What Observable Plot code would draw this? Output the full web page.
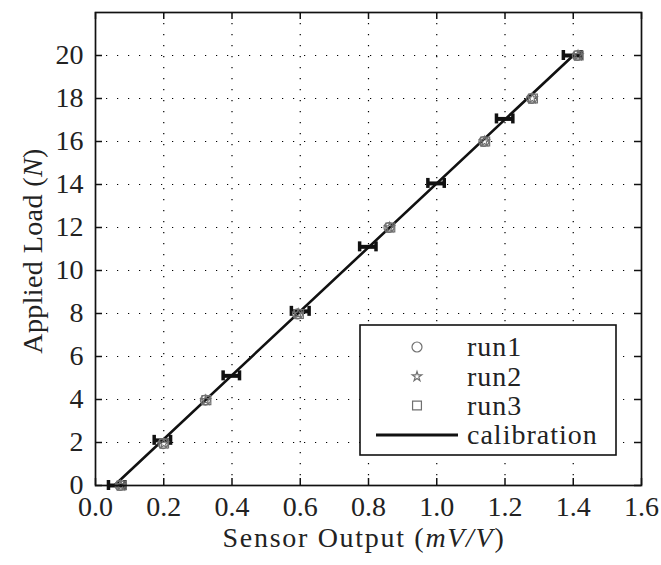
<!DOCTYPE html>
<html><head><meta charset="utf-8">
<script src="https://cdn.jsdelivr.net/npm/d3@7"></script>
<script src="https://cdn.jsdelivr.net/npm/@observablehq/plot@0.6"></script>
<style>body{margin:0;background:#fff} #chart svg{display:block}</style>
</head><body><div id="chart"></div>
<script>
// ---- data ----
const xTicks = [0.0, 0.2, 0.4, 0.6, 0.8, 1.0, 1.2, 1.4, 1.6];
const yTicks = [0, 2, 4, 6, 8, 10, 12, 14, 16, 18, 20];
const runLoads = [0, 1.95, 3.97, 7.98, 12.0, 16.0, 18.0, 20.0];
const run1X = [0.072, 0.198, 0.322, 0.592, 0.860, 1.138, 1.278, 1.412];
const run2X = [0.074, 0.200, 0.323, 0.594, 0.862, 1.140, 1.280, 1.414];
const run3X = [0.076, 0.201, 0.325, 0.596, 0.864, 1.142, 1.282, 1.416];
const errLoads = [0, 2.1, 5.1, 8.1, 11.1, 14.05, 17.05, 20.0];
const errX = [0.062, 0.196, 0.398, 0.600, 0.798, 0.998, 1.199, 1.397];
const errHalf = [0.024, 0.024, 0.024, 0.026, 0.024, 0.024, 0.024, 0.026];
const calX = [0.055, 1.40];
const calY = [0, 20];
const legendLabels = ["run1", "run2", "run3", "calibration"];

// ---- layout ----
const W = 661, H = 565, mL = 95, mR = 20, mT = 12, mB = 80;
const xDom = [0, 1.6], yDom = [0, 22];
const pxX = (W - mL - mR) / (xDom[1] - xDom[0]);
const pxY = (H - mT - mB) / (yDom[1] - yDom[0]);
const tickLen = 7;
const tx = tickLen / pxX, ty = tickLen / pxY;
const capHalf = 5 / pxY;

const runs = [
  {xs: run1X, symbol: "circle", r: 5},
  {xs: run2X, symbol: "star", r: 3},
  {xs: run3X, symbol: "square", r: 5}
];
const errs = errX.map((x, i) => ({x, y: errLoads[i], e: errHalf[i]}));
const cal = calX.map((x, i) => ({x, y: calY[i]}));
const grey = "#707070";
const dots = "1.2,9.8";
const fs = 28;

const marks = [
  Plot.ruleX(xTicks.slice(1, -1), {stroke: "#000", strokeWidth: 1.2, strokeDasharray: dots}),
  Plot.ruleY(yTicks.slice(1), {stroke: "#000", strokeWidth: 1.2, strokeDasharray: dots}),
  Plot.ruleX(xTicks, {y1: yDom[0], y2: yDom[0] + ty, stroke: "#111", strokeWidth: 1.5}),
  Plot.ruleX(xTicks, {y1: yDom[1] - ty, y2: yDom[1], stroke: "#111", strokeWidth: 1.5}),
  Plot.ruleY(yTicks, {x1: xDom[0], x2: xDom[0] + tx, stroke: "#111", strokeWidth: 1.5}),
  Plot.ruleY(yTicks, {x1: xDom[1] - tx, x2: xDom[1], stroke: "#111", strokeWidth: 1.5}),
  Plot.line(cal, {x: "x", y: "y", stroke: "#111", strokeWidth: 2.6}),
  Plot.ruleY(errs, {y: "y", x1: d => d.x - d.e, x2: d => d.x + d.e, stroke: "#111", strokeWidth: 4}),
  Plot.ruleX(errs, {x: d => d.x - d.e, y1: d => d.y - capHalf, y2: d => d.y + capHalf, stroke: "#111", strokeWidth: 3.5}),
  Plot.ruleX(errs, {x: d => d.x + d.e, y1: d => d.y - capHalf, y2: d => d.y + capHalf, stroke: "#111", strokeWidth: 3.5}),
  ...runs.map(run => Plot.dot(run.xs.map((x, i) => ({x, y: runLoads[i]})),
    {x: "x", y: "y", symbol: run.symbol, r: run.r, fill: "none", stroke: grey, strokeWidth: 1.2})),
  Plot.frame({stroke: "#111", strokeWidth: 1.7})
];

const chart = Plot.plot({
  width: W, height: H,
  marginLeft: mL, marginRight: mR, marginTop: mT, marginBottom: mB,
  style: {fontFamily: "'Liberation Serif', serif", fontSize: fs + "px", color: "#222", background: "#fff"},
  x: {domain: xDom, ticks: xTicks, tickSize: 0, tickPadding: 11, tickFormat: d3.format(".1f"), label: null},
  y: {domain: yDom, ticks: yTicks, tickSize: 0, tickPadding: 12, label: null},
  marks
});
document.getElementById("chart").appendChild(chart);

// ---- axis labels & legend ----
const svg = d3.select(chart);
const font = "'Liberation Serif', serif";
const xl = svg.append("text").attr("x", 364).attr("y", 547)
  .attr("text-anchor", "middle").attr("font-family", font).attr("font-size", fs)
  .attr("letter-spacing", 1.7).attr("fill", "#222");
xl.append("tspan").text("Sensor Output (");
xl.append("tspan").attr("font-style", "italic").text("mV/V");
xl.append("tspan").text(")");

const yl = svg.append("text").attr("transform", `translate(42,251) rotate(-90)`)
  .attr("text-anchor", "middle").attr("font-family", font).attr("font-size", fs)
  .attr("letter-spacing", 0.4).attr("fill", "#222");
yl.append("tspan").text("Applied Load (");
yl.append("tspan").attr("font-style", "italic").text("N");
yl.append("tspan").text(")");

const lg = svg.append("g");
lg.append("rect").attr("x", 360).attr("y", 325).attr("width", 256).attr("height", 130)
  .attr("fill", "#fff").attr("stroke", "#111").attr("stroke-width", 1.6);
const rowY = [347, 376.5, 405.5, 435];
const symTypes = [d3.symbolCircle, d3.symbolStar, d3.symbolSquare];
runs.forEach((run, i) => {
  lg.append("path").attr("transform", `translate(417,${rowY[i]})`)
    .attr("d", d3.symbol(symTypes[i], Math.PI * run.r * run.r)())
    .attr("fill", "none").attr("stroke", grey).attr("stroke-width", 1.2);
});
lg.append("line").attr("x1", 376).attr("x2", 458).attr("y1", rowY[3]).attr("y2", rowY[3])
  .attr("stroke", "#111").attr("stroke-width", 2.8);
legendLabels.forEach((t, i) => {
  lg.append("text").attr("x", 467).attr("y", rowY[i]).attr("dy", "0.33em")
    .attr("text-anchor", "start")
    .attr("font-family", font).attr("font-size", fs).attr("letter-spacing", 1)
    .attr("fill", "#222").text(t);
});
</script>
</body></html>
